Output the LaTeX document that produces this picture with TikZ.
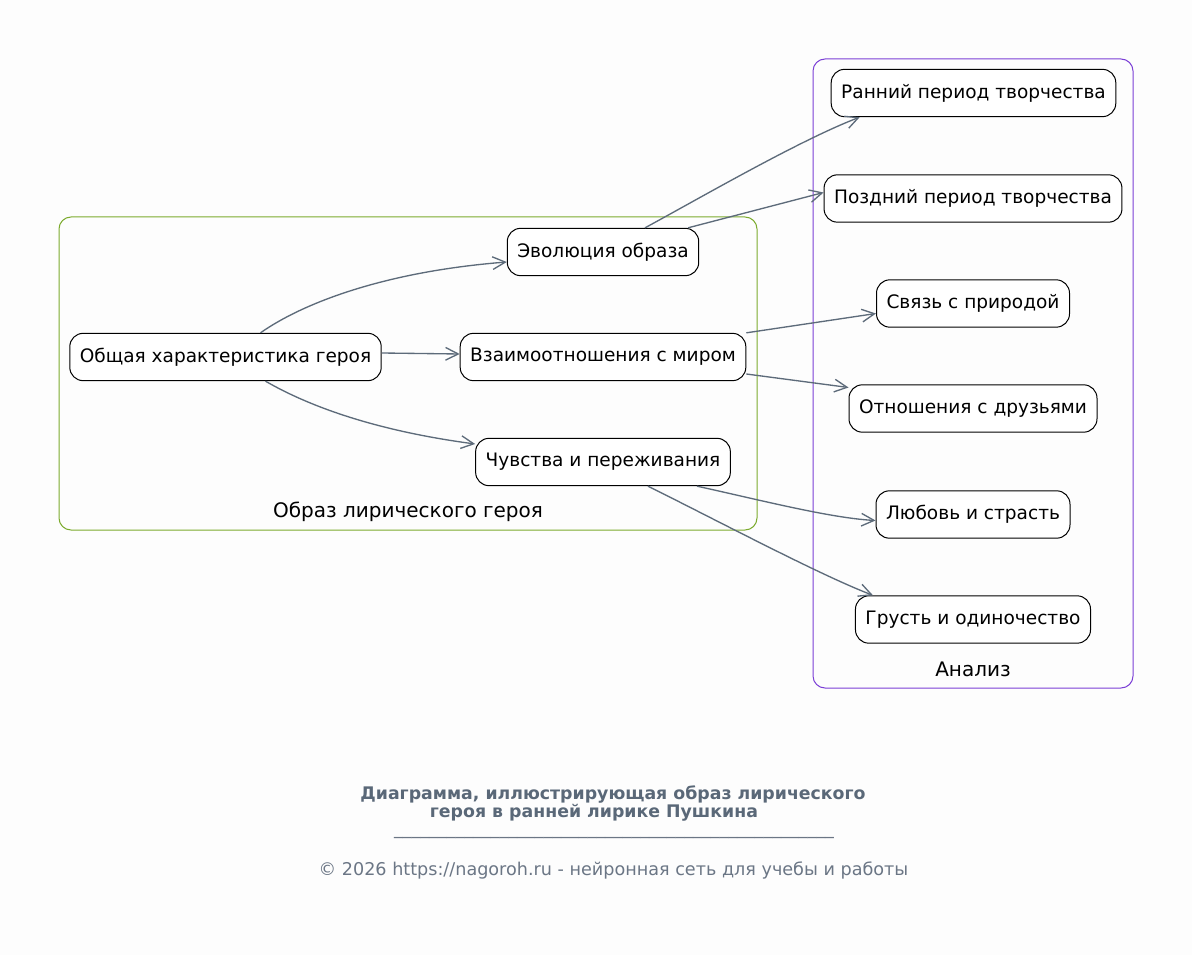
\documentclass[tikz,border=0pt]{standalone}
\usepackage{fontspec}
\setmainfont{DejaVu Sans}
\usetikzlibrary{arrows.meta,calc}
\definecolor{edgegray}{HTML}{5D6B7A}
\definecolor{titlegray}{HTML}{5A6878}
\definecolor{footgray}{HTML}{6B7685}
\definecolor{grpgreen}{HTML}{7CAB2E}
\definecolor{grppurple}{HTML}{7B3FD6}
\definecolor{pagebg}{HTML}{FDFDFD}
\tikzset{
  topic/.style={draw=black, fill=white, line width=0.75pt, rounded corners=10pt,
    inner xsep=7.5pt, minimum height=35.5pt, font=\fontsize{13.9}{15}\selectfont},
  group/.style={line width=0.75pt, rounded corners=9pt},
  grplabel/.style={font=\fontsize{15}{17}\selectfont},
  edge/.style={draw=edgegray, line width=1pt, -{Straight Barb[length=9.5pt,width=9.5pt]}}
}
\begin{document}
\begin{tikzpicture}[x=0.75pt, y=-0.75pt]
			%%%%% CANVAS %%%%%
			\fill[pagebg] (0, 0) rectangle (1192, 955);
			\useasboundingbox (0, 0) rectangle (1192, 955);
			
			%%%%% GROUPS %%%%%
			\draw[group, draw=grpgreen] (59, 217) rectangle (757, 530);
			\node[grplabel] (grpimage) at (408, 512) {Образ лирического героя};
			
			\draw[group, draw=grppurple] (813, 59) rectangle (1133, 688);
			\node[grplabel] (grpanalysis) at (973, 669) {Анализ};
			
			%%%%% TOPICS %%%%%
			\node[topic] (general) at (225.5, 357) {Общая характеристика героя};
			\node[topic] (evolution) at (603, 252) {Эволюция образа};
			\node[topic] (relations) at (603, 357) {Взаимоотношения с миром};
			\node[topic] (feelings) at (603, 462) {Чувства и переживания};
			
			\node[topic] (early) at (973.5, 93) {Ранний период творчества};
			\node[topic] (late) at (973, 198.5) {Поздний период творчества};
			\node[topic] (nature) at (973, 303.5) {Связь с природой};
			\node[topic] (friends) at (973, 408.5) {Отношения с друзьями};
			\node[topic] (love) at (973, 514.5) {Любовь и страсть};
			\node[topic] (sadness) at (973, 619.5) {Грусть и одиночество};
			
			%%%%% EDGES %%%%%
			\draw[edge] ($(general.north)+(35, 0)$) .. controls (300, 305) and (380, 272) .. ($(evolution.west)+(0, 10)$);
			\draw[edge] ($(general.east)+(0, -4)$) -- ($(relations.west)+(0, -3)$);
			\draw[edge] ($(general.south)+(40, 0)$) .. controls (305, 404) and (370, 430) .. ($(feelings.west)+(0, -18)$);
			
			\draw[edge] ($(evolution.north)+(42, 0)$) .. controls (700, 198) and (800, 140) .. ($(early.south west)+(29, 0)$);
			\draw[edge] ($(evolution.north)+(85, 0)$) -- ($(late.west)+(0, -6)$);
			
			\draw[edge] ($(relations.north east)+(0, 0)$) -- ($(nature.west)+(0, 10)$);
			\draw[edge] ($(relations.east)+(0, 17)$) -- ($(friends.west)+(0, -21)$);
			
			\draw[edge] ($(feelings.south)+(94, 0)$) .. controls (760, 500) and (830, 518) .. ($(love.west)+(0, 6)$);
			\draw[edge] ($(feelings.south)+(45, 0)$) .. controls (720, 522) and (820, 575) .. ($(sadness.north west)+(18, 0)$);
			
			%%%%% FOOTER %%%%%
			\node[font=\fontsize{13}{13.5}\selectfont\bfseries, text=titlegray, align=center] (title) at (613, 803)
				{Диаграмма, иллюстрирующая образ лирического\\героя в ранней лирике Пушкина\hspace*{2.2em}};
			\node[font=\fontsize{13.2}{15}\selectfont, text=footgray, anchor=base, inner sep=0pt, text height=0pt] (rule) at (614, 834)
				{\_\_\_\_\_\_\_\_\_\_\_\_\_\_\_\_\_\_\_\_\_\_\_\_\_\_\_\_\_\_\_\_\_\_\_\_\_\_\_\_\_\_\_\_\_\_\_\_\_\_};
			\node[font=\fontsize{13.2}{15}\selectfont, text=footgray] (copyright) at (613.5, 870)
				{© 2026 https://nagoroh.ru - нейронная сеть для учебы и работы};
\end{tikzpicture}
\end{document}
